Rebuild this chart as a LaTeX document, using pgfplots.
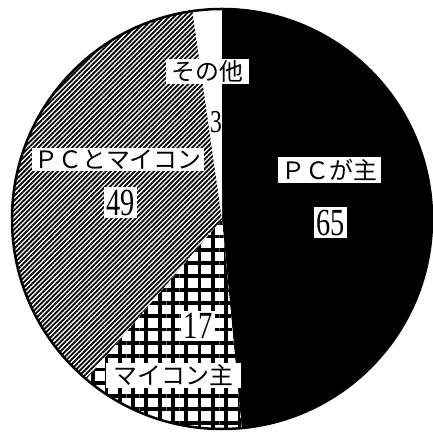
\documentclass[border=0pt]{standalone}
\usepackage{fontspec}
\usepackage{graphicx}
\usepackage{pgfplots}
\usepackage{pgfplotstable}
\pgfplotsset{compat=1.18}
\usetikzlibrary{patterns.meta}
\newfontfamily\cjk{Noto Sans CJK JP}
\newfontfamily\numfont{Liberation Serif}

% Shares, clockwise from 12 o'clock:
% PCが主, マイコン主, PCとマイコン, その他
\pgfplotstableread{
idx value
0 65
1 17
2 49
3 3
}\sharetable

% slice boundary angles (degrees), starting at the top and running clockwise
\pgfplotstablegetelem{0}{value}\of\sharetable\let\vA\pgfplotsretval
\pgfplotstablegetelem{1}{value}\of\sharetable\let\vB\pgfplotsretval
\pgfplotstablegetelem{2}{value}\of\sharetable\let\vC\pgfplotsretval
\pgfplotstablegetelem{3}{value}\of\sharetable\let\vD\pgfplotsretval
\pgfmathsetmacro\total{\vA+\vB+\vC+\vD}
\pgfmathsetmacro\aA{90}
\pgfmathsetmacro\aB{\aA-360*(\vA/\total)}
\pgfmathsetmacro\aC{\aB-360*(\vB/\total)}
\pgfmathsetmacro\aD{\aC-360*(\vC/\total)}
\pgfmathsetmacro\aE{\aD-360*(\vD/\total)}
\def\R{210bp}

\newcommand\jp[1]{{\cjk\fontsize{24}{24}\selectfont #1}}
\newcommand\num[2][38.5]{\scalebox{0.74}[1]{\numfont\fontsize{#1}{#1}\selectfont #2}}

\begin{document}
\begin{tikzpicture}
\begin{axis}[
  name=pie,
  x=1bp, y=1bp,
  scale only axis,
  hide axis,
  xmin=-222, xmax=211,
  ymin=-217, ymax=219,
]
% PCが主
\fill[black] (axis cs:0,0) -- ++(\aA:\R) arc[start angle=\aA, end angle=\aB, radius=\R] -- cycle;
% マイコン主
\fill[white] (axis cs:0,0) -- ++(\aB:\R) arc[start angle=\aB, end angle=\aC, radius=\R] -- cycle;
\fill[pattern={Hatch[angle=0, distance=13.3bp, line width=3.8bp]}, pattern color=black]
  (axis cs:0,0) -- ++(\aB:\R) arc[start angle=\aB, end angle=\aC, radius=\R] -- cycle;
% PCとマイコン
\fill[white] (axis cs:0,0) -- ++(\aC:\R) arc[start angle=\aC, end angle=\aD, radius=\R] -- cycle;
\fill[pattern={Lines[angle=45, distance=3.4bp, line width=1.8bp]}, pattern color=black]
  (axis cs:0,0) -- ++(\aC:\R) arc[start angle=\aC, end angle=\aD, radius=\R] -- cycle;
% その他
\fill[white] (axis cs:0,0) -- ++(\aD:\R) arc[start angle=\aD, end angle=\aE, radius=\R] -- cycle;
% outline
\draw[line width=2.5bp] (axis cs:0,0) circle[radius=\R];

% labels
\node[fill=white, inner ysep=2bp, inner xsep=5.5bp] at (axis cs:-14.5,147.5) {\jp{その他}};
\node[inner sep=1bp] at (axis cs:-6,97) {\num[32]{3}};
\node[fill=white, inner ysep=2bp, inner xsep=2bp] at (axis cs:-104,59.5) {\jp{ＰＣとマイコン}};
\node[fill=white, inner sep=2.5bp] at (axis cs:-101.5,16.5) {\num{49}};
\node[fill=white, inner ysep=2bp, inner xsep=3.5bp] at (axis cs:107.5,49) {\jp{ＰＣが主}};
\node[fill=white, inner sep=2.5bp] at (axis cs:108.5,-3.5) {\num{65}};
\node[fill=white, inner sep=2.5bp] at (axis cs:-24,-107) {\num{17}};
\node[fill=white, inner ysep=1.5bp, inner xsep=8bp] at (axis cs:-48.5,-156.5) {\jp{マイコン主}};
\end{axis}
\pgfresetboundingbox
\path[use as bounding box] (pie.south west) rectangle (pie.north east);
\end{tikzpicture}
\end{document}
